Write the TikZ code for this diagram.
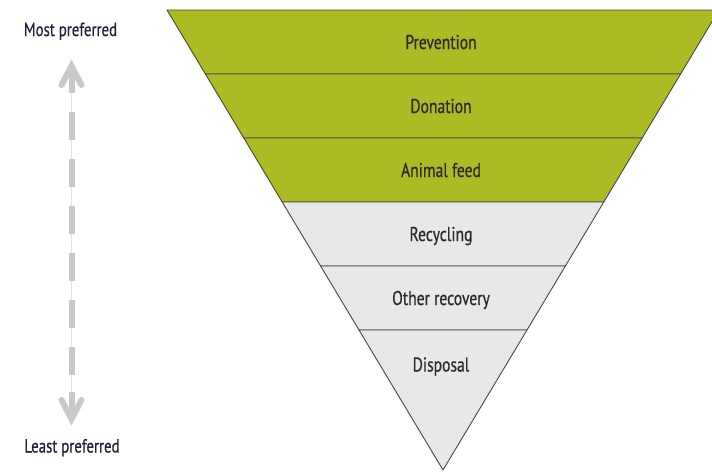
\documentclass[tikz,border=0pt]{standalone}
\usepackage{fontspec}
\setmainfont{PT Sans}[FakeStretch=0.78,FakeBold=0.6]
\definecolor{wgreen}{HTML}{ACBB24}
\definecolor{wgrey}{HTML}{E7E8E8}
\definecolor{wedge}{HTML}{474740}
\definecolor{wtext}{HTML}{2E2B26}
\definecolor{wnavy}{HTML}{20203A}
\definecolor{warrow}{HTML}{C8C9CB}
\tikzset{
  band/.style={draw=wedge,line width=0.9pt,line join=round},
  lab/.style={text=wtext,anchor=base,font=\fontsize{20}{24}\selectfont},
  side/.style={text=wnavy,anchor=base,font=\fontsize{19}{23}\selectfont},
  arrowbar/.style={warrow,line width=6pt,dash pattern=on 28pt off 19pt},
  arrowhd/.style={warrow,line width=6pt,line cap=round,line join=miter}
}
\begin{document}
\begin{tikzpicture}[x=1pt,y=-1pt]
  \useasboundingbox (0,0) rectangle (712,472);
  \clip (0,0) rectangle (712,472);

  % Inverted pyramid, apex at (443,470), six bands of 64 units
  \foreach [count=\i] \lab/\col in {Prevention/wgreen,Donation/wgreen,Animal feed/wgreen,Recycling/wgrey,Other recovery/wgrey,Disposal/wgrey} {
    % top and bottom of the band
    \pgfmathsetmacro{\yt}{10+64*(\i-1)}
    \pgfmathsetmacro{\yb}{ifthenelse(\i==6,470,\yt+64)}
    \pgfmathsetmacro{\ly}{ifthenelse(\i==6,371.5,\yt+39)}
    % half widths at top and bottom
    \pgfmathsetmacro{\wt}{0.6*(470-\yt)}
    \pgfmathsetmacro{\wb}{0.6*(470-\yb)}
    \draw[band,fill=\col] ({443-\wt},\yt) -- ({443+\wt},\yt) -- ({443+\wb},\yb) -- ({443-\wb},\yb) -- cycle;
    \node[lab] (band\i) at (441,\ly) {\lab};
  }

  % Preference labels
  \node[side] (most) at (70.5,36) {Most preferred};
  \node[side] (least) at (72,452.5) {Least preferred};

  % Double arrow between them
  \coordinate (up) at (71.5,66);
  \coordinate (down) at (71.5,419);
  \draw[warrow!55,line width=0.6pt] (up) -- (down);
  \draw[arrowbar] (71.5,112) -- (71.5,376);
  \draw[arrowhd] (61.5,85) -- (up) -- (81.5,85);
  \draw[warrow,line width=6pt] (up) -- (71.5,93);
  \draw[arrowhd] (61.5,400) -- (down) -- (81.5,400);
  \draw[warrow,line width=6pt] (down) -- (71.5,392);
\end{tikzpicture}
\end{document}
